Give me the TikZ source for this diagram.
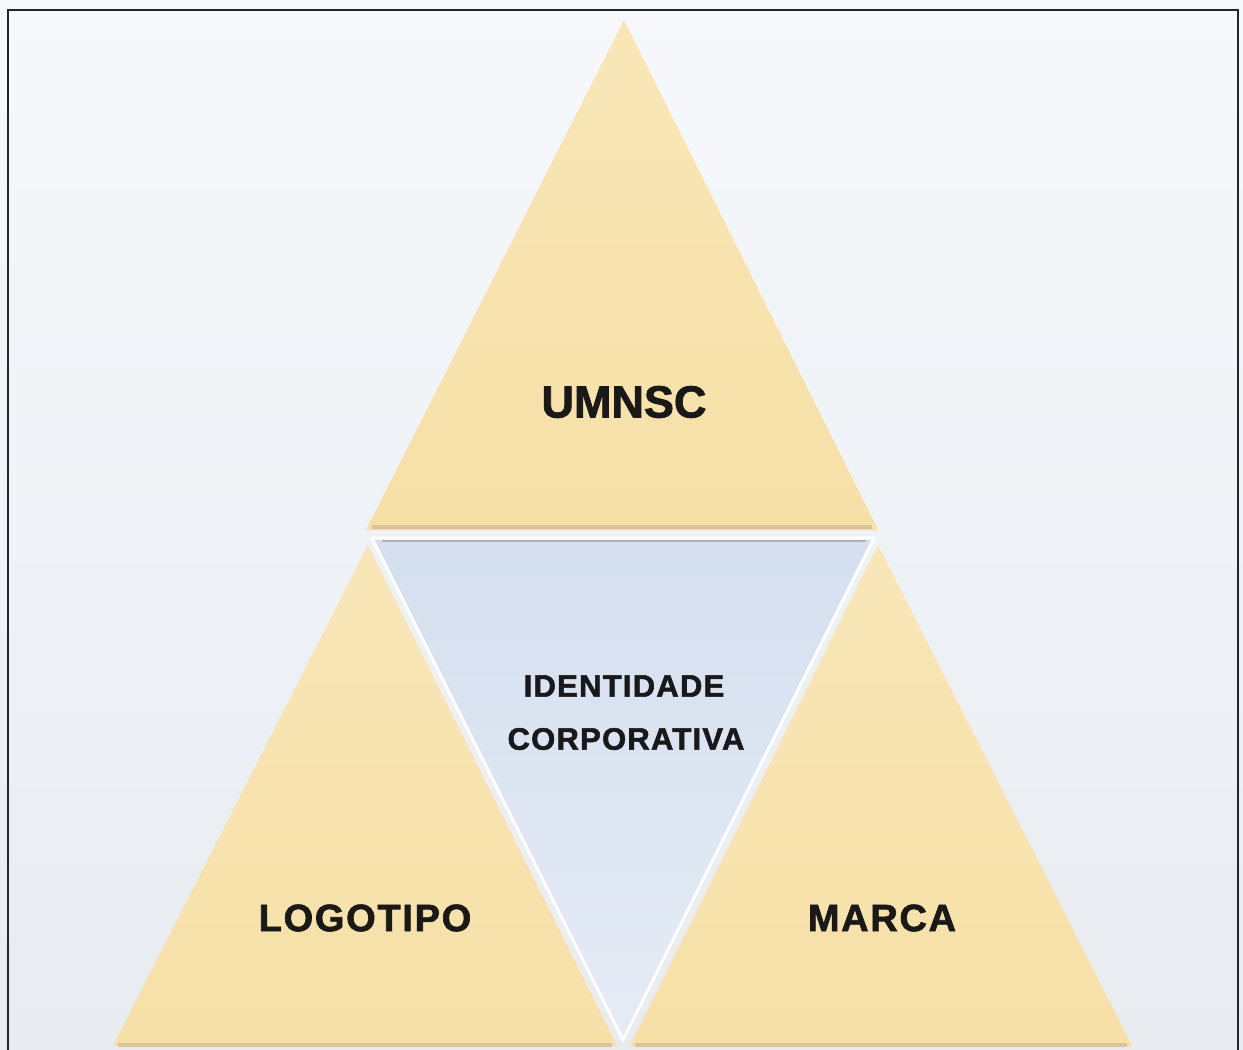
\documentclass[tikz,border=0pt]{standalone}
\usepackage{fontspec}
\setmainfont{Liberation Sans}
\newfontfamily\heavy{Liberation Sans}[BoldFeatures={FakeBold=1.8}]
\newfontfamily\heavysp{Liberation Sans}[BoldFeatures={FakeBold=1.8}, LetterSpace=4]
\newfontfamily\heavyspb{Liberation Sans}[BoldFeatures={FakeBold=1.8}, LetterSpace=4.5]
\begin{document}
\begin{tikzpicture}[x=1pt,y=-1pt,
  tri/.style={top color=#1!80!white, bottom color=#1, draw=none},
  lbl/.style={text=black!90, inner sep=0pt, anchor=center}]
\definecolor{bgtop}{HTML}{F6F8FB}
\definecolor{bgbot}{HTML}{E8ECF1}
\definecolor{ytri}{HTML}{F7E0A6}
\definecolor{btri}{HTML}{D4DFEF}
\definecolor{tan}{HTML}{D8C39C}
\useasboundingbox (0,0) rectangle (1243,1050);
\shade[top color=bgtop, bottom color=bgbot] (0,0) rectangle (1243,1050);
% frame (no bottom edge)
\draw[line width=2.2pt, black!85] (8,1050) -- (8,10) -- (1238,10) -- (1238,1050);
% top triangle
\path[tri=ytri] (624,20) -- (878,530) -- (366,530) -- cycle;
\draw[tan, line width=4pt] (372,527) -- (872,527);
% inner inverted triangle
\path[top color=btri, bottom color=btri!60!white, draw=white, line width=3pt] (372,538) -- (874,538) -- (623,1040) -- cycle;
\draw[black!30, line width=1.2pt] (382,541) -- (866,541);
% left triangle
\path[tri=ytri] (368,545) -- (617,1046) -- (113,1046) -- cycle;
\draw[tan, line width=4pt] (118,1045) -- (612,1045);
% right triangle
\path[tri=ytri] (878,545) -- (1132,1046) -- (630,1046) -- cycle;
\draw[tan, line width=4pt] (635,1045) -- (1127,1045);
% labels
\node[lbl, font=\heavy\bfseries\fontsize{45}{50}\selectfont] (umnsc) at (624,402) {UMNSC};
\node[lbl, font=\heavysp\bfseries\fontsize{31}{36}\selectfont] (ident) at (624,686) {IDENTIDADE};
\node[lbl, font=\heavysp\bfseries\fontsize{31}{36}\selectfont] (corp) at (626,739) {CORPORATIVA};
\node[lbl, font=\heavyspb\bfseries\fontsize{38}{42}\selectfont] (logo) at (365,918) {LOGOTIPO};
\node[lbl, font=\heavyspb\bfseries\fontsize{38}{42}\selectfont] (marca) at (882,918) {MARCA};
\end{tikzpicture}
\end{document}
